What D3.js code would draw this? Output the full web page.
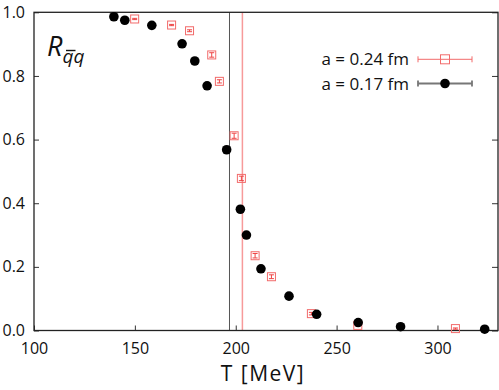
<!DOCTYPE html>
<html lang="en">
<head>
<meta charset="UTF-8">
<title>R_qq</title>
<script src="https://d3js.org/d3.v7.min.js"></script>
<style>
    * { margin: 0; padding: 0; }
    body { background: #fff; }
    text { font-family: "Open Sans", sans-serif; fill: #111; }
</style>
</head>
<body>
<script>
    // a = 0.17 fm (black dots)
    var blackT = [139.6, 145.0, 158.4, 173.4, 179.7, 185.8, 195.5, 202.3, 205.3, 212.5, 226.4, 240.1, 260.7, 281.7, 323.4];
    var blackR = [0.986, 0.975, 0.959, 0.901, 0.847, 0.769, 0.568, 0.381, 0.300, 0.194, 0.108, 0.051, 0.025, 0.012, 0.004];
    // a = 0.24 fm (red squares)
    var redT = [149.9, 168.2, 177.1, 188.1, 191.9, 199.2, 202.8, 209.6, 217.7, 237.5, 260.5, 308.9];
    var redR = [0.979, 0.960, 0.942, 0.866, 0.783, 0.612, 0.478, 0.235, 0.169, 0.053, 0.016, 0.006];
    var redErr = [0.002, 0.002, 0.003, 0.007, 0.005, 0.008, 0.007, 0.007, 0.006, 0.004, 0.002, 0.002];
    // transition temperatures
    var tcBlack = 196.9;
    var tcRed = 203.3;

    var xTicks = [100, 150, 200, 250, 300];
    var yTicks = [0, 0.2, 0.4, 0.6, 0.8, 1.0];
    var legendLabels = ["a = 0.24 fm", "a = 0.17 fm"];

    var width = 499, height = 390;
    var pLeft = 34, pRight = 498, pTop = 12.3, pBottom = 330.5;

    var x = d3.scaleLinear().domain([100, 330]).range([pLeft, pRight]);
    var y = d3.scaleLinear().domain([0, 1]).range([pBottom, pTop]);

    var svg = d3.select("body").append("svg")
        .attr("width", width)
        .attr("height", height);

    function styleTicks(g) {
        g.select(".domain").remove();
        g.selectAll("line").attr("stroke", "#333");
        g.selectAll("text").attr("font-size", 16).attr("font-family", "Open Sans").attr("fill", "#111");
    }

    // axes
    svg.append("g")
        .attr("transform", "translate(0," + pBottom + ")")
        .call(d3.axisBottom(x).tickValues(xTicks).tickSize(-5).tickPadding(12))
        .call(styleTicks);

    svg.append("g")
        .attr("transform", "translate(" + pLeft + ",0)")
        .call(d3.axisLeft(y).tickValues(yTicks).tickSize(-5).tickPadding(9).tickFormat(d3.format(".1f")))
        .call(styleTicks);

    svg.append("g")
        .attr("transform", "translate(" + pRight + ",0)")
        .call(d3.axisRight(y).tickValues(yTicks).tickSize(-6).tickFormat(""))
        .call(styleTicks);

    // vertical lines
    svg.append("line")
        .attr("x1", x(tcBlack)).attr("x2", x(tcBlack))
        .attr("y1", pTop).attr("y2", pBottom)
        .attr("stroke", "#555").attr("stroke-width", 1);
    svg.append("line")
        .attr("x1", x(tcRed)).attr("x2", x(tcRed))
        .attr("y1", pTop).attr("y2", pBottom)
        .attr("stroke", "#f79a9a").attr("stroke-width", 1.5);

    // frame
    svg.append("rect")
        .attr("x", pLeft).attr("y", pTop)
        .attr("width", pRight - pLeft).attr("height", pBottom - pTop)
        .attr("fill", "none").attr("stroke", "#222").attr("stroke-width", 1.3);

    // red squares with error bars
    var red = redT.map(function(t, i) { return {t: t, r: redR[i], e: redErr[i]}; });
    var rg = svg.append("g").selectAll("g").data(red).enter().append("g");
    rg.append("rect")
        .attr("x", function(d) { return x(d.t) - 4; })
        .attr("y", function(d) { return y(d.r) - 4; })
        .attr("width", 8).attr("height", 8)
        .attr("fill", "none").attr("stroke", "#f26b6b").attr("stroke-width", 1);
    rg.append("path")
        .attr("d", function(d) {
            var cx = x(d.t), y1 = y(d.r + d.e), y2 = y(d.r - d.e);
            return "M" + cx + "," + y1 + "V" + y2 +
                   "M" + (cx - 2.5) + "," + y1 + "H" + (cx + 2.5) +
                   "M" + (cx - 2.5) + "," + y2 + "H" + (cx + 2.5);
        })
        .attr("stroke", "#ee4444").attr("stroke-width", 1).attr("fill", "none");

    // black dots
    var black = blackT.map(function(t, i) { return {t: t, r: blackR[i]}; });
    svg.append("g").selectAll("circle").data(black).enter().append("circle")
        .attr("cx", function(d) { return x(d.t); })
        .attr("cy", function(d) { return y(d.r); })
        .attr("r", 4.8)
        .attr("fill", "#000");

    // legend
    var lx1 = 418, lx2 = 472, lmid = 445;
    var ly = [59.3, 83.5];
    var lcol = ["#f26b6b", "#777"];
    legendLabels.forEach(function(lab, i) {
        svg.append("text")
            .attr("x", 409).attr("y", ly[i] + 6)
            .attr("text-anchor", "end")
            .attr("font-family", "Liberation Sans, Arial, sans-serif")
            .attr("font-size", 17)
            .text(lab);
        svg.append("path")
            .attr("d", "M" + lx1 + "," + ly[i] + "H" + lx2 +
                       "M" + lx1 + "," + (ly[i] - 3) + "V" + (ly[i] + 3) +
                       "M" + lx2 + "," + (ly[i] - 3) + "V" + (ly[i] + 3))
            .attr("stroke", lcol[i]).attr("stroke-width", i === 0 ? 1 : 1.8).attr("fill", "none");
    });
    svg.append("rect")
        .attr("x", lmid - 4.5).attr("y", ly[0] - 4.5)
        .attr("width", 9).attr("height", 9)
        .attr("fill", "none").attr("stroke", "#f26b6b").attr("stroke-width", 1);
    svg.append("circle")
        .attr("cx", lmid).attr("cy", ly[1]).attr("r", 4.8).attr("fill", "#000");

    // R_qq label
    var rl = svg.append("text")
        .attr("x", 47).attr("y", 56)
        .attr("font-family", "Liberation Sans, Arial, sans-serif")
        .attr("font-style", "italic")
        .attr("font-size", 27);
    rl.append("tspan").text("R");
    rl.append("tspan").attr("dy", 7).attr("font-size", 19).text("qq");
    svg.append("line")
        .attr("x1", 66).attr("x2", 75.5)
        .attr("y1", 50.5).attr("y2", 50.5)
        .attr("stroke", "#111").attr("stroke-width", 1.4);

    // x label
    svg.append("text")
        .attr("x", 263).attr("y", 381)
        .attr("text-anchor", "middle")
        .attr("font-size", 21)
        .attr("letter-spacing", 1.5)
        .text("T [MeV]");
</script>
</body>
</html>
